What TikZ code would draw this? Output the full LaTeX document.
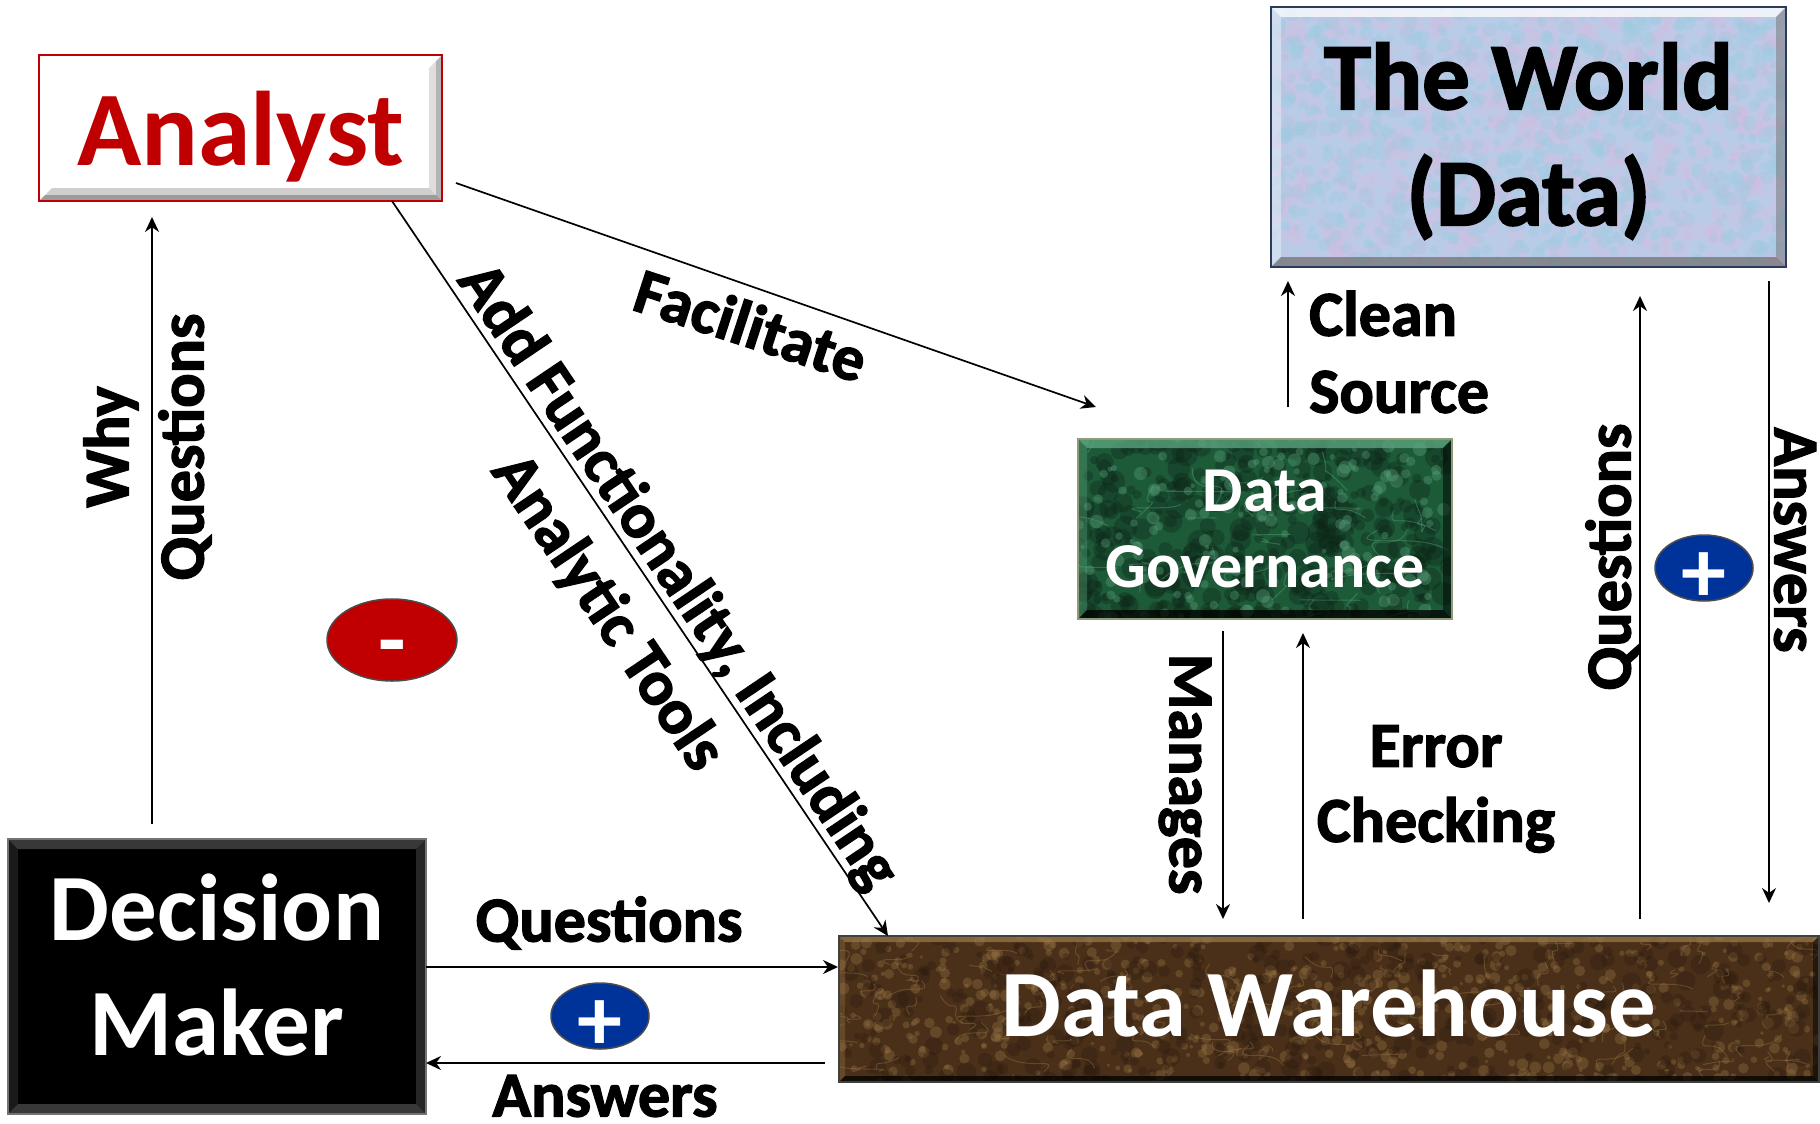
\documentclass[tikz,border=0pt]{standalone}
\usepackage{fontspec}
\setmainfont{Carlito}
\newfontfamily\boxfont{Carlito Bold}
\newfontfamily\heavyfont{Carlito Bold}[FakeBold=2]
\usetikzlibrary{arrows.meta,shapes.geometric}

\definecolor{analystred}{HTML}{C00000}
\definecolor{plusblue}{HTML}{003399}
\definecolor{worldblue}{HTML}{B8CCE8}
\definecolor{worldlilac}{HTML}{D2BEE2}
\definecolor{worldsky}{HTML}{9CCBE0}
\definecolor{worldedge}{HTML}{2A3B5C}
\definecolor{dgreen}{HTML}{1D5A38}
\definecolor{dgreenlight}{HTML}{5FA882}
\definecolor{dgedge}{HTML}{8F9A78}
\definecolor{dwbrown}{HTML}{4A3019}
\definecolor{dwtan}{HTML}{9A7746}
\definecolor{dwdark}{HTML}{2B1A0E}

% size and leading in one go
\newcommand{\pxfont}[2]{\fontsize{#1}{#2}\selectfont}
% blotches: count, half width, half height, colour, largest radius
\newcommand{\blotches}[5]{
    \foreach \i in {1,...,#1} {
        \pgfmathsetmacro\px{(2*rnd-1)*#2}
        \pgfmathsetmacro\py{(2*rnd-1)*#3}
        \pgfmathsetmacro\pr{(0.3+0.7*rnd)*#5}
        \fill[#4,opacity=0.35] (\px,\py) circle [radius=\pr];
    }
}
% veins: count, half width, half height, colour, reach
\newcommand{\veins}[5]{
    \foreach \i in {1,...,#1} {
        \pgfmathsetmacro\px{(2*rnd-1)*#2}
        \pgfmathsetmacro\py{(2*rnd-1)*#3}
        \pgfmathsetmacro\qx{(2*rnd-1)*#5}
        \pgfmathsetmacro\qy{(2*rnd-1)*#5}
        \pgfmathsetmacro\rx{(2*rnd-1)*#5}
        \draw[#4,opacity=0.4,line width=1pt] (\px,\py) .. controls +(\qx,\qy) and +(\rx,-\qy) .. +(\qx+\rx,\qy);
    }
}
% the bevel round a box: half width, half height, depth, light, dark
\newcommand{\bevelframe}[5]{
    \fill[#4,opacity=0.75] (-#1,-#2) -- ++(2*#1,0) -- ++(-#3,#3) -- ++(-2*#1+2*#3,0) -- cycle;
    \fill[#4,opacity=0.35] (-#1,-#2) -- ++(0,2*#2) -- ++(#3,-#3) -- ++(0,-2*#2+2*#3) -- cycle;
    \fill[#5,opacity=0.75] (-#1,#2) -- ++(2*#1,0) -- ++(-#3,-#3) -- ++(-2*#1+2*#3,0) -- cycle;
    \fill[#5,opacity=0.5] (#1,-#2) -- ++(0,2*#2) -- ++(-#3,-#3) -- ++(0,-2*#2+2*#3) -- cycle;
}

\tikzset{
    arrowline/.style={->,line width=1.7pt},
    boxnode/.style={rectangle,draw,line width=2.5pt,inner sep=0pt,outer sep=0pt},
    boxtext/.style={inner sep=0pt,align=center},
    labelnode/.style={inner sep=0pt,align=center,font=\heavyfont\pxfont{64}{75}},
    signnode/.style={ellipse,draw=black!70,line width=1.5pt,inner sep=0pt,text=white,
        minimum width=98pt,minimum height=66pt,font=\boxfont\pxfont{90}{90}},
    picturecentre/.style={shift={(path picture bounding box.center)}},
    analystbox/.style={boxnode,draw=analystred,fill=white,minimum width=403pt,minimum height=146pt,
        path picture={\begin{scope}[picturecentre]
            \bevelframe{201.5}{73}{13}{white}{black!25}
            \bevelframe{201.5}{73}{6}{white}{black!45}
        \end{scope}}},
    worldbox/.style={boxnode,draw=worldedge,fill=worldblue,minimum width=515pt,minimum height=260pt,
        path picture={\begin{scope}[picturecentre]
            \pgfmathsetseed{11}
            \blotches{900}{257}{130}{worldlilac}{10}
            \blotches{900}{257}{130}{worldsky}{8}
            \bevelframe{257.5}{130}{10}{white}{black!55}
        \end{scope}}},
    dgbox/.style={boxnode,draw=dgedge,fill=dgreen,minimum width=374pt,minimum height=180pt,
        path picture={\begin{scope}[picturecentre]
            \pgfmathsetseed{23}
            \blotches{350}{187}{90}{black!60!dgreen}{12}
            \blotches{160}{187}{90}{dgreenlight}{7}
            \veins{40}{187}{90}{dgreenlight}{40}
            \bevelframe{187}{90}{9}{dgreenlight}{black}
        \end{scope}}},
    dwbox/.style={boxnode,draw=black!75,fill=dwbrown,minimum width=980pt,minimum height=146pt,
        path picture={\begin{scope}[picturecentre]
            \pgfmathsetseed{37}
            \blotches{700}{490}{73}{dwtan}{6}
            \blotches{400}{490}{73}{dwdark}{10}
            \veins{120}{490}{73}{dwtan}{25}
            \bevelframe{490}{73}{6}{dwtan}{black}
        \end{scope}}},
    dmbox/.style={boxnode,draw=black!55,fill=black,minimum width=418pt,minimum height=275pt,
        path picture={\begin{scope}[picturecentre]
            \bevelframe{209}{137.5}{10}{black!70}{black!70}
        \end{scope}}},
}

\begin{document}
\begin{tikzpicture}[x=1pt,y=-1pt,>={Stealth[length=15pt,width=14pt]}]
    \useasboundingbox (0,0) rectangle (1820,1124);

    % the boxes
    \node[analystbox,label={[boxtext,yshift=-9pt,text=analystred,font=\boxfont\pxfont{106}{116}]center:Analyst}] (analyst) at (240.5,128) {};
    \node[worldbox,label={[boxtext,yshift=-4pt,font=\heavyfont\pxfont{95}{116}]center:The World\\(Data)}] (world) at (1528.5,137) {};
    \node[dgbox,label={[boxtext,text=white,font=\boxfont\pxfont{64}{76}]center:Data\\Governance}] (dg) at (1265,529) {};
    \node[dwbox,label={[boxtext,yshift=5pt,text=white,font=\boxfont\pxfont{95}{114}]center:Data Warehouse}] (dw) at (1329,1009) {};
    \node[dmbox,label={[boxtext,yshift=11pt,text=white,font=\boxfont\pxfont{95}{115}]center:Decision\\Maker}] (dm) at (217,976.5) {};

    % the signs
    \node[signnode,fill=analystred,minimum width=130pt,minimum height=82pt] (minus) at (392,640) {\raisebox{-30pt}[0pt][0pt]{-}};
    \node[signnode,fill=plusblue] (plusright) at (1704,568) {\raisebox{-34pt}[0pt][0pt]{+}};
    \node[signnode,fill=plusblue] (plusbottom) at (600,1016) {\raisebox{-34pt}[0pt][0pt]{+}};

    % Decision Maker up to Analyst
    \draw[arrowline] ([xshift=144pt,yshift=15pt]dm.north west) -- ([xshift=113pt,yshift=-16pt]analyst.south west);
    \node[labelnode,rotate=90] (why) at (111,447) {Why};
    \node[labelnode,rotate=90] (whyquestions) at (185,447) {Questions};

    % Analyst across to Data Warehouse
    \draw[arrowline] ([xshift=-50pt]analyst.south east) -- ([xshift=49pt]dw.north west);
    \node[labelnode,rotate=-56] (addfunc) at (677,577) {Add Functionality, Including};
    \node[labelnode,rotate=-56] (tools) at (607,613) {Analytic Tools};

    % Analyst to Data Governance
    \draw[arrowline] ([xshift=14pt,yshift=18pt]analyst.south east) -- ([xshift=18pt,yshift=32pt]dg.north west);
    \node[labelnode,rotate=-18] (facilitate) at (751,325) {Facilitate};

    % Data Governance to The World
    \draw[arrowline] ([xshift=-164pt,yshift=32pt]dg.north east) -- ([xshift=17pt,yshift=-14pt]world.south west);
    \node[labelnode,anchor=west,align=left,font=\heavyfont\pxfont{64}{77}] (clean) at (1309,352) {Clean\\Source};

    % Data Warehouse and The World
    \draw[arrowline] ([xshift=-179pt,yshift=17pt]dw.north east) -- ([xshift=-146pt,yshift=-29pt]world.south east);
    \draw[arrowline] ([xshift=-17pt,yshift=-14pt]world.south east) -- ([xshift=-50pt,yshift=33pt]dw.north east);
    \node[labelnode,rotate=90] (worldquestions) at (1612,557) {Questions};
    \node[labelnode,rotate=-90] (worldanswers) at (1795,540) {Answers};

    % Data Governance and Data Warehouse
    \draw[arrowline] ([xshift=145pt,yshift=-12pt]dg.south west) -- ([xshift=384pt,yshift=17pt]dw.north west);
    \draw[arrowline] ([xshift=464pt,yshift=17pt]dw.north west) -- ([xshift=225pt,yshift=-14pt]dg.south west);
    \node[labelnode,rotate=-90] (manages) at (1185,774) {Manages};
    \node[labelnode] (errorcheck) at (1436,789) {Error\\Checking};

    % Decision Maker and Data Warehouse
    \draw[arrowline] ([yshift=9.5pt]dm.east) -- ([xshift=-1pt,yshift=42pt]dw.west);
    \draw[arrowline] ([xshift=-14pt,yshift=-54pt]dw.west) -- ([yshift=-86.5pt]dm.east);
    \node[labelnode] (dmquestions) at (609,923) {Questions};
    \node[labelnode] (dmanswers) at (605,1096) {Answers};
\end{tikzpicture}
\end{document}
